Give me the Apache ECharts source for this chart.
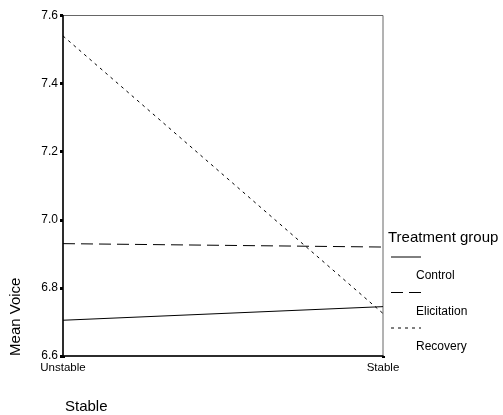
<!DOCTYPE html>
<html>
<head>
<meta charset="utf-8">
<script src="https://cdn.jsdelivr.net/npm/echarts@6/dist/echarts.min.js"></script>
<style>html,body{margin:0;padding:0;background:#fff;}#c{width:503px;height:415px;}</style>
</head>
<body>
<div id="c"></div>
<script>
const categories = ['Unstable', 'Stable'];
const seriesNames = ['Control', 'Elicitation', 'Recovery'];
const control = [6.705, 6.745];
const elicitation = [6.93, 6.92];
const recovery = [7.54, 6.725];
const yMin = 6.6, yMax = 7.6, yStep = 0.2;
const legendTitle = 'Treatment group';
const xName = 'Stable';
const yName = 'Mean Voice';

const FONT = '"Liberation Sans", Arial, sans-serif';
const dashes = ['solid', [12, 6], [3, 4]];
const values = [control, elicitation, recovery];

const chart = echarts.init(document.getElementById('c'), null, {renderer: 'canvas'});

const legendGraphics = [{
  type: 'text', left: 388, top: 230,
  style: {text: legendTitle, font: '15px ' + FONT, fill: '#000'}
}];
seriesNames.forEach((n, i) => {
  const y = 257 + 35.5 * i;
  legendGraphics.push({
    type: 'line',
    shape: {x1: 391, y1: y, x2: 421, y2: y},
    style: {stroke: '#000', lineWidth: 1, lineDash: dashes[i] === 'solid' ? null : dashes[i]}
  });
  legendGraphics.push({
    type: 'text', left: 416, top: y + 13,
    style: {text: n, font: '12px ' + FONT, fill: '#000'}
  });
});

chart.setOption({
  animation: false,
  backgroundColor: '#fff',
  grid: {left: 62, right: 120, top: 15.5, bottom: 59, show: true, borderColor: '#666', borderWidth: 1},
  xAxis: {
    type: 'category', data: categories, boundaryGap: false,
    axisLine: {lineStyle: {color: '#000', width: 1.5}},
    axisTick: {length: 2, lineStyle: {color: '#000', width: 3}},
    axisLabel: {color: '#000', fontFamily: FONT, fontSize: 11.5, margin: 6},
    name: xName, nameLocation: 'start', nameGap: -2,
    nameTextStyle: {color: '#000', fontFamily: FONT, fontSize: 15, align: 'left', verticalAlign: 'top', padding: [43, 0, 0, 0]}
  },
  yAxis: {
    type: 'value', min: yMin, max: yMax, interval: yStep,
    axisLine: {show: true, lineStyle: {color: '#000', width: 1.5}},
    axisTick: {show: true, length: 3, lineStyle: {color: '#000', width: 3}},
    splitLine: {show: false},
    axisLabel: {color: '#000', fontFamily: FONT, fontSize: 12, margin: 5, formatter: v => v.toFixed(1)},
    name: yName, nameLocation: 'middle', nameGap: 40,
    nameTextStyle: {color: '#000', fontFamily: FONT, fontSize: 15, padding: [0, 262, 0, 0]}
  },
  series: seriesNames.map((n, i) => ({
    name: n, type: 'line', data: values[i], symbol: 'none',
    lineStyle: {color: '#000', width: 1, type: dashes[i]}
  })),
  graphic: legendGraphics
});
</script>
</body>
</html>
